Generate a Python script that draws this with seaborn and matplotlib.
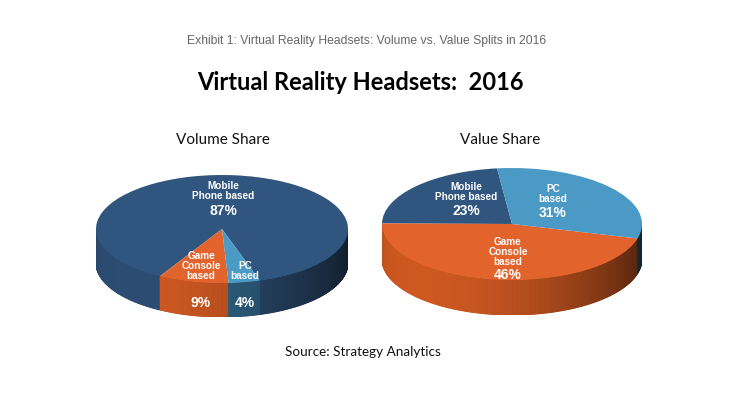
import numpy as np
import matplotlib
matplotlib.use("Agg")
import matplotlib.pyplot as plt
import seaborn as sns
from matplotlib.collections import PolyCollection
from matplotlib.colors import to_rgb

sns.set_theme(style="white")
plt.rcParams['font.family'] = ['Liberation Sans', 'DejaVu Sans']

# ---- data ----
categories = ["Mobile\nPhone based", "Game\nConsole\nbased", "PC\nbased"]
volume_share = [87, 9, 4]
value_share = [23, 46, 31]
top_colors = ["#30567F", "#E3632C", "#4B9AC6"]
wall_colors = ["#2C4D73", "#CF5820", "#2F6485"]

W, H = 730, 399
fig = plt.figure(figsize=(7.3, 3.99), dpi=100)
fig.patch.set_facecolor("white")


def shade(t):
    return np.clip(0.62 + 0.38 * np.cos(np.radians(t - 225)), 0.3, 1.0)


def pie3d(cx, cy, a, b, depth, values, start):
    top, bottom = cy - b, cy + b + depth
    ax = fig.add_axes([(cx - a) / W, 1 - bottom / H, 2 * a / W, (bottom - top) / H])
    D = depth / b
    wedges, _ = ax.pie(values, colors=top_colors, startangle=start, counterclock=True,
                       radius=1, wedgeprops=dict(linewidth=0))
    for w in wedges:
        w.set_zorder(3)
    total = float(sum(values))
    theta = start
    polys, cols = [], []
    for v, wc in zip(values, wall_colors):
        t1 = theta + 360.0 * v / total
        n = max(int(abs(t1 - theta) * 2), 2)
        ts = np.linspace(theta, t1, n + 1)
        base = np.array(to_rgb(wc))
        for ta, tb in zip(ts[:-1], ts[1:]):
            tm = (ta + tb) / 2
            if np.sin(np.radians(tm)) > 0.003:
                continue
            ra, rb = np.radians(ta), np.radians(tb)
            polys.append([(np.cos(ra), np.sin(ra)), (np.cos(rb), np.sin(rb)),
                          (np.cos(rb), np.sin(rb) - D), (np.cos(ra), np.sin(ra) - D)])
            cols.append(np.clip(base * shade(tm % 360), 0, 1))
        theta = t1
    pc = PolyCollection(polys, facecolors=cols, edgecolors=cols, linewidths=0.6, zorder=1)
    ax.add_collection(pc)
    ax.set_aspect("auto")
    ax.set_xlim(-1, 1)
    ax.set_ylim(-1 - D, 1)
    ax.axis("off")
    return ax


pie3d(222, 229, 126, 54, 34, volume_share, 287.4)
pie3d(512, 224, 130, 56, 35, value_share, 96.6)

# overlay axes for text (pixel coordinates)
ax0 = fig.add_axes([0, 0, 1, 1])
ax0.set_zorder(10)
ax0.patch.set_alpha(0)
ax0.set_xlim(0, W)
ax0.set_ylim(H, 0)
ax0.axis("off")

# ---- titles ----
ax0.text(367, 41, "Exhibit 1: Virtual Reality Headsets: Volume vs. Value Splits in 2016",
         ha="center", va="center", fontsize=8.7, color="#666666")
ax0.text(360, 83, "Virtual Reality Headsets:  2016", ha="center", va="center",
         fontsize=17, fontweight="bold", color="black", family=["Lato", "DejaVu Sans"])
ax0.text(223, 140, "Volume Share", ha="center", va="center", fontsize=11,
         color="#111111", family=["Lato", "DejaVu Sans"])
ax0.text(500, 140, "Value Share", ha="center", va="center", fontsize=11,
         color="#111111", family=["Lato", "DejaVu Sans"])
ax0.text(363, 352, "Source: Strategy Analytics", ha="center", va="center", fontsize=9.7,
         color="#111111", family=["Lato", "DejaVu Sans"])

# ---- slice labels ----
lab_kw = dict(ha="center", va="center", color="white", fontweight="bold", zorder=10)


def put(x, y, name, pct, y_pct):
    ax0.text(x, y, name, fontsize=7.2, linespacing=1.05, **lab_kw)
    ax0.text(x, y_pct, f"{pct}%", fontsize=10, **lab_kw)


# volume
put(223, 191, categories[0], volume_share[0], 211)
put(201, 266, categories[1], volume_share[1], 303)
put(245, 271, categories[2], volume_share[2], 303)
# value
put(466, 192, categories[0], value_share[0], 211)
put(508, 252, categories[1], value_share[1], 275)
put(553, 194, categories[2], value_share[2], 213)

fig.savefig("out.png", dpi=100, facecolor="white")
